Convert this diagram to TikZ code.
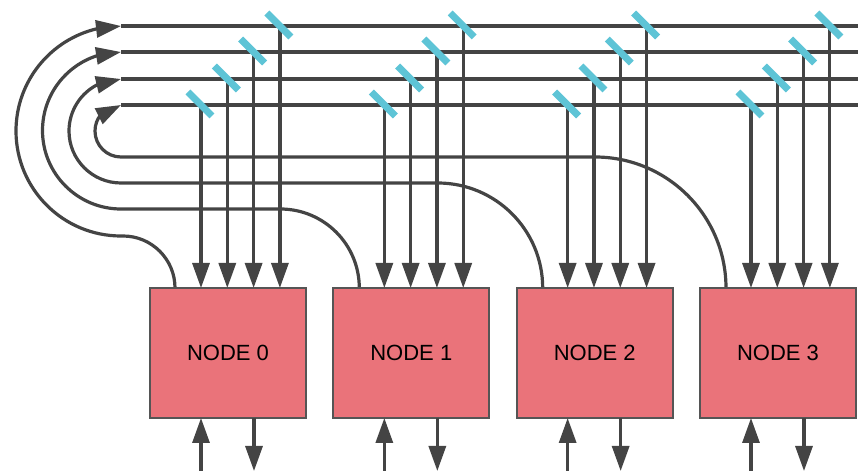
\documentclass[tikz,border=0pt]{standalone}
\usepackage{fontspec}
\setmainfont{Liberation Sans}
\usetikzlibrary{arrows.meta,bending}
\definecolor{edge}{RGB}{68,68,68}
\definecolor{boxfill}{RGB}{234,115,122}
\definecolor{boxline}{RGB}{85,85,85}
\definecolor{slash}{RGB}{94,196,214}
\begin{document}
\begin{tikzpicture}[x=1pt,y=1pt,
  wire/.style={draw=edge,line width=3.2pt},
  arr/.style={wire,-{Triangle[length=25pt,width=17pt]}},
  farr/.style={wire,-{Triangle[length=25pt,width=17pt,flex]}},
  nodebox/.style={draw=boxline,fill=boxfill,line width=2pt,minimum width=156pt,minimum height=130pt,inner sep=0pt,outer sep=0pt,font=\fontsize{22}{26}\selectfont},
  tap/.style={draw=slash,line width=7pt}]
\useasboundingbox (0,0) rectangle (860,471);
% bus lines
\foreach \i/\Y in {0/366,1/392,2/419,3/445} {
  \coordinate (bs\i) at (121,\Y);
  \coordinate (be\i) at (858,\Y);
  \draw[wire] (bs\i) -- (be\i);
}
% return curves
\draw[farr] (175,183) arc[start angle=0,end angle=90,radius=52] -- (121,235) arc[start angle=-90,end angle=-270,radius=105];
\draw[farr] (359.3,183) arc[start angle=0,end angle=90,radius=79] -- (121,262) arc[start angle=-90,end angle=-270,radius=78.5];
\draw[farr] (542.7,183) arc[start angle=0,end angle=90,radius=105] -- (121,288) arc[start angle=-90,end angle=-270,radius=52];
\draw[farr] (726,183) arc[start angle=0,end angle=90,radius=131] -- (121,314) arc[start angle=-90,end angle=-270,radius=26];
% nodes
\foreach \k/\cx in {0/228,1/411.3,2/594.7,3/778} {
  \node[nodebox] (n\k) at (\cx,118) {NODE \k};
}
% taps and drops
\foreach \k in {0,1,2,3} {
  \foreach \i/\Y in {0/366,1/392,2/419,3/445} {
    \pgfmathsetmacro{\xx}{150+183.33*\k+51+26.3*\i}
    \coordinate (t\k\i) at (\xx,\Y);
    \draw[arr] (t\k\i) -- (n\k.north -| t\k\i);
    \draw[tap] ([shift={(-13,13)}]t\k\i) -- ([shift={(11,-11)}]t\k\i);
  }
  \pgfmathsetmacro{\xa}{150+183.33*\k+51}
  \pgfmathsetmacro{\xb}{150+183.33*\k+104}
  \coordinate (in\k) at (\xa,0);
  \coordinate (out\k) at (\xb,0);
  \draw[arr] (in\k) -- (n\k.south -| in\k);
  \draw[arr] (n\k.south -| out\k) -- (out\k);
}
\end{tikzpicture}
\end{document}
